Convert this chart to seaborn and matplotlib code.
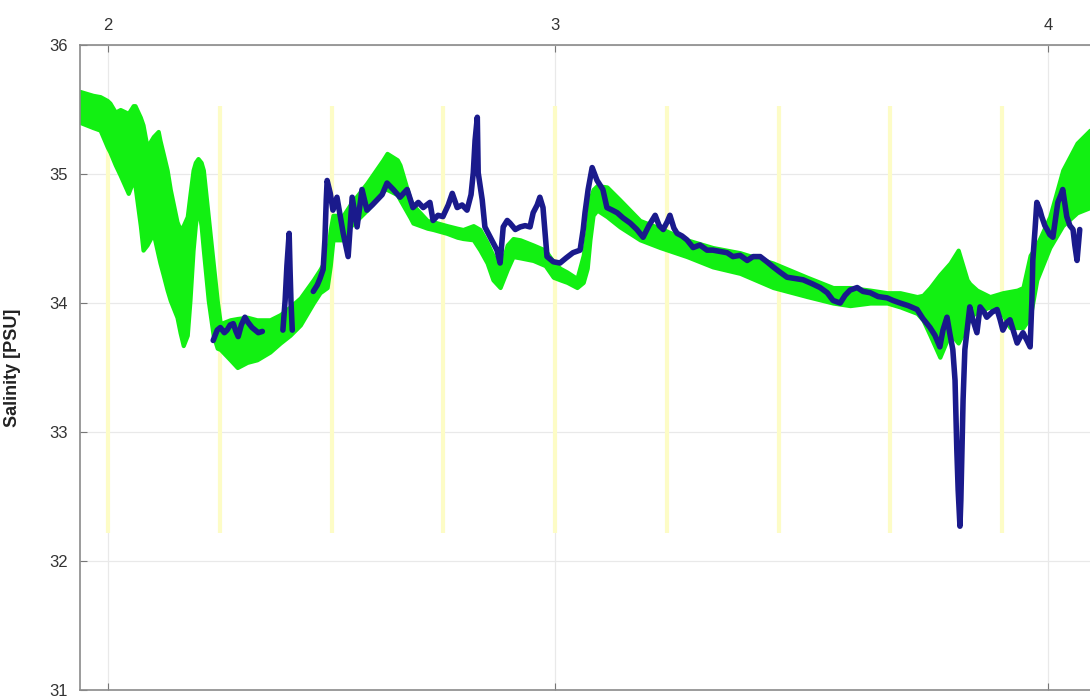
import numpy as np
import pandas as pd
import seaborn as sns
import matplotlib.pyplot as plt

# green envelope: x position and upper / lower salinity
band_x = [1.937, 1.966, 1.982, 1.998, 2.004, 2.016, 2.027, 2.045, 2.056, 2.060,
          2.072, 2.078, 2.087, 2.101, 2.112, 2.116, 2.123, 2.132, 2.139, 2.154,
          2.161, 2.168, 2.177, 2.183, 2.190, 2.195, 2.201, 2.208, 2.213, 2.224,
          2.235, 2.244, 2.251, 2.273, 2.289, 2.311, 2.333, 2.362, 2.385, 2.407,
          2.430, 2.459, 2.474, 2.490, 2.497, 2.503, 2.526, 2.541, 2.579, 2.615,
          2.624, 2.647, 2.653, 2.676, 2.682, 2.714, 2.727, 2.758, 2.781, 2.794,
          2.817, 2.832, 2.848, 2.861, 2.877, 2.893, 2.906, 2.922, 2.951, 2.978,
          2.996, 3.011, 3.027, 3.049, 3.063, 3.072, 3.078, 3.085, 3.094, 3.116,
          3.145, 3.190, 3.235, 3.295, 3.353, 3.414, 3.488, 3.564, 3.622, 3.660,
          3.705, 3.743, 3.772, 3.810, 3.823, 3.839, 3.861, 3.884, 3.902, 3.922,
          3.928, 3.944, 3.973, 4.002, 4.018, 4.034, 4.047, 4.063, 4.078, 4.107,
          4.136, 4.168, 4.197]
band_hi = [35.64, 35.61, 35.60, 35.57, 35.55, 35.48, 35.50, 35.47, 35.53, 35.53,
           35.44, 35.38, 35.21, 35.29, 35.33, 35.26, 35.16, 35.03, 34.88, 34.63,
           34.57, 34.60, 34.67, 34.84, 35.03, 35.09, 35.12, 35.09, 35.03, 34.67,
           34.31, 34.02, 33.84, 33.87, 33.88, 33.89, 33.87, 33.87, 33.91, 33.97,
           34.04, 34.18, 34.26, 34.36, 34.57, 34.68, 34.68, 34.76, 34.93, 35.11,
           35.16, 35.11, 35.07, 34.80, 34.76, 34.64, 34.63, 34.60, 34.58, 34.57,
           34.60, 34.57, 34.47, 34.37, 34.26, 34.45, 34.50, 34.49, 34.45, 34.41,
           34.32, 34.27, 34.24, 34.19, 34.37, 34.57, 34.80, 34.88, 34.91, 34.90,
           34.80, 34.64, 34.58, 34.49, 34.43, 34.39, 34.31, 34.20, 34.12, 34.12,
           34.10, 34.08, 34.08, 34.05, 34.06, 34.12, 34.22, 34.31, 34.41, 34.18,
           34.15, 34.10, 34.05, 34.08, 34.09, 34.10, 34.12, 34.37, 34.45, 34.67,
           35.03, 35.24, 35.34]
band_lo = [35.40, 35.36, 35.34, 35.21, 35.17, 35.07, 34.99, 34.85, 34.95, 34.91,
           34.60, 34.41, 34.45, 34.54, 34.37, 34.31, 34.22, 34.10, 34.02, 33.89,
           33.77, 33.67, 33.75, 34.02, 34.41, 34.60, 34.76, 34.60, 34.41, 34.02,
           33.75, 33.65, 33.64, 33.56, 33.50, 33.54, 33.56, 33.62, 33.69, 33.75,
           33.83, 34.00, 34.08, 34.12, 34.29, 34.49, 34.49, 34.59, 34.72, 34.88,
           34.88, 34.84, 34.80, 34.66, 34.62, 34.58, 34.57, 34.54, 34.51, 34.50,
           34.49, 34.41, 34.31, 34.18, 34.12, 34.26, 34.36, 34.35, 34.33, 34.29,
           34.20, 34.18, 34.16, 34.12, 34.16, 34.27, 34.49, 34.68, 34.72, 34.67,
           34.59, 34.49, 34.43, 34.36, 34.28, 34.23, 34.12, 34.05, 34.00, 33.98,
           34.00, 34.00, 33.97, 33.92, 33.87, 33.75, 33.58, 33.77, 33.69, 33.83,
           33.89, 33.93, 33.97, 33.91, 33.81, 33.81, 33.81, 33.89, 34.18, 34.43,
           34.60, 34.70, 34.74]

# measured salinity (nan = gap in the record)
obs_x = [2.235, 2.244, 2.251, 2.260, 2.266, 2.273, 2.280, 2.286, 2.291, 2.298,
         2.306, 2.313, 2.322, 2.329, 2.336, 2.345, np.nan,
         2.391, 2.396, 2.400, 2.405, 2.407, 2.409, 2.412, np.nan,
         2.459, 2.468, 2.474, 2.481, 2.485, 2.488, 2.490, 2.497, 2.503, 2.512,
         2.519, 2.526, 2.537, 2.546, 2.557, 2.568, 2.579, 2.591, 2.602, 2.613,
         2.624, 2.638, 2.653, 2.669, 2.682, 2.694, 2.705, 2.720, 2.727, 2.738,
         2.749, 2.761, 2.770, 2.781, 2.792, 2.803, 2.812, 2.817, 2.821, 2.826,
         2.828, 2.837, 2.843, 2.852, 2.861, 2.870, 2.877, 2.884, 2.893, 2.899,
         2.911, 2.922, 2.933, 2.944, 2.951, 2.960, 2.966, 2.973, 2.982, 2.996,
         3.011, 3.025, 3.040, 3.056, 3.063, 3.067, 3.074, 3.083, 3.094, 3.107,
         3.116, 3.128, 3.139, 3.152, 3.168, 3.183, 3.197, 3.210, 3.224, 3.233,
         3.242, 3.251, 3.257, 3.266, 3.273, 3.284, 3.295, 3.309, 3.324, 3.340,
         3.353, 3.369, 3.385, 3.398, 3.414, 3.430, 3.443, 3.459, 3.474, 3.488,
         3.503, 3.519, 3.537, 3.555, 3.575, 3.593, 3.609, 3.622, 3.638, 3.649,
         3.660, 3.676, 3.689, 3.705, 3.723, 3.743, 3.756, 3.772, 3.790, 3.810,
         3.823, 3.839, 3.850, 3.861, 3.868, 3.877, 3.884, 3.890, 3.895, 3.899,
         3.902, 3.906, 3.908, 3.911, 3.913, 3.917, 3.922, 3.928, 3.935, 3.944,
         3.951, 3.960, 3.966, 3.978, 3.989, 3.996, 4.002, 4.011, 4.018, 4.025,
         4.034, 4.040, 4.047, 4.056, 4.063, 4.067, 4.069, 4.074, 4.078, 4.085,
         4.089, 4.096, 4.101, 4.107, 4.114, 4.121, 4.125, 4.132, 4.136, 4.141,
         4.145, 4.152, 4.159, 4.163, 4.168, 4.174]
obs_sal = [33.71, 33.79, 33.81, 33.77, 33.79, 33.83, 33.84, 33.78, 33.74, 33.83,
           33.89, 33.85, 33.81, 33.79, 33.77, 33.78, np.nan,
           33.79, 34.02, 34.29, 34.54, 34.26, 34.02, 33.79, np.nan,
           34.09, 34.14, 34.19, 34.26, 34.49, 34.80, 34.95, 34.85, 34.72, 34.82,
           34.68, 34.54, 34.36, 34.82, 34.59, 34.88, 34.72, 34.76, 34.80, 34.84,
           34.93, 34.88, 34.82, 34.88, 34.74, 34.78, 34.74, 34.78, 34.64, 34.68,
           34.67, 34.76, 34.85, 34.74, 34.76, 34.72, 34.84, 35.01, 35.26, 35.44,
           35.01, 34.80, 34.59, 34.53, 34.47, 34.41, 34.31, 34.59, 34.64, 34.62,
           34.57, 34.59, 34.60, 34.59, 34.70, 34.76, 34.82, 34.74, 34.36, 34.32,
           34.31, 34.35, 34.39, 34.41, 34.57, 34.70, 34.88, 35.05, 34.95, 34.88,
           34.74, 34.72, 34.70, 34.66, 34.62, 34.57, 34.51, 34.60, 34.68, 34.60,
           34.57, 34.63, 34.68, 34.58, 34.54, 34.52, 34.49, 34.43, 34.45, 34.41,
           34.41, 34.40, 34.39, 34.36, 34.37, 34.33, 34.36, 34.36, 34.32, 34.28,
           34.24, 34.20, 34.19, 34.18, 34.15, 34.12, 34.08, 34.02, 34.00, 34.06,
           34.10, 34.12, 34.09, 34.08, 34.05, 34.04, 34.02, 34.00, 33.98, 33.95,
           33.88, 33.81, 33.75, 33.66, 33.79, 33.89, 33.75, 33.64, 33.40, 32.86,
           32.55, 32.27, 32.47, 32.94, 33.25, 33.64, 33.79, 33.97, 33.87, 33.77,
           33.97, 33.93, 33.89, 33.93, 33.95, 33.87, 33.79, 33.85, 33.87, 33.79,
           33.69, 33.73, 33.77, 33.71, 33.66, 34.02, 34.33, 34.57, 34.78, 34.72,
           34.67, 34.60, 34.57, 34.53, 34.51, 34.68, 34.78, 34.84, 34.88, 34.76,
           34.67, 34.60, 34.57, 34.45, 34.33, 34.57]

# station markers (yellow) and their vertical extent
station_x = [2.0, 2.25, 2.5, 2.75, 3.0, 3.25, 3.5, 3.75, 4.0]
station_span = [32.22, 35.53]

tick_pos = [2.0, 3.0, 4.103]
tick_lbl = ['2', '3', '4']
x_range = [1.937, 4.197]
y_range = [31, 36]

sns.set_style('white')
plt.rcParams['font.family'] = ['Liberation Sans', 'DejaVu Sans']

fig = plt.figure(figsize=(10.9, 6.97), dpi=100)
ax = fig.add_axes([0.0734, 0.010, 0.9266, 0.9254])

ax.vlines(station_x, station_span[0], station_span[1], color='#fdfcc6', lw=3, zorder=1)
ax.fill_between(band_x, band_lo, band_hi, facecolor='#12f012', edgecolor='#12f012',
                lw=3, zorder=2)

obs = pd.DataFrame({'x': obs_x, 'sal': obs_sal})
obs['seg'] = obs['sal'].isna().cumsum()
obs = obs.dropna()
sns.lineplot(data=obs, x='x', y='sal', units='seg', estimator=None, sort=False,
             color='#1a1a8c', lw=4, ax=ax, legend=False, zorder=3)

ax.set_xlim(x_range)
ax.set_ylim(y_range)
ax.set_xticks(tick_pos)
ax.set_xticklabels(tick_lbl)
ax.set_yticks(np.arange(31, 37))
ax.grid(True, color='#e9e9e9', lw=0.9, zorder=0)
ax.set_axisbelow(True)

ax.tick_params(axis='x', top=True, bottom=True, labeltop=True, labelbottom=False,
               direction='in', length=5, color='#777777', labelsize=12,
               labelcolor='#333333', pad=9)
ax.tick_params(axis='y', left=True, right=False, direction='in', length=5,
               color='#777777', labelsize=12, labelcolor='#333333', pad=9)
for side in ['left', 'top', 'bottom']:
    ax.spines[side].set_color('#8a8a8a')
    ax.spines[side].set_linewidth(1.2)
ax.spines['right'].set_visible(False)

ax.set_xlabel('')
ax.set_ylabel('Salinity [PSU]', fontsize=13, fontweight='bold', color='#222222')
ax.yaxis.set_label_coords(-0.058, 0.5)

plt.savefig('out.png', dpi=100)
